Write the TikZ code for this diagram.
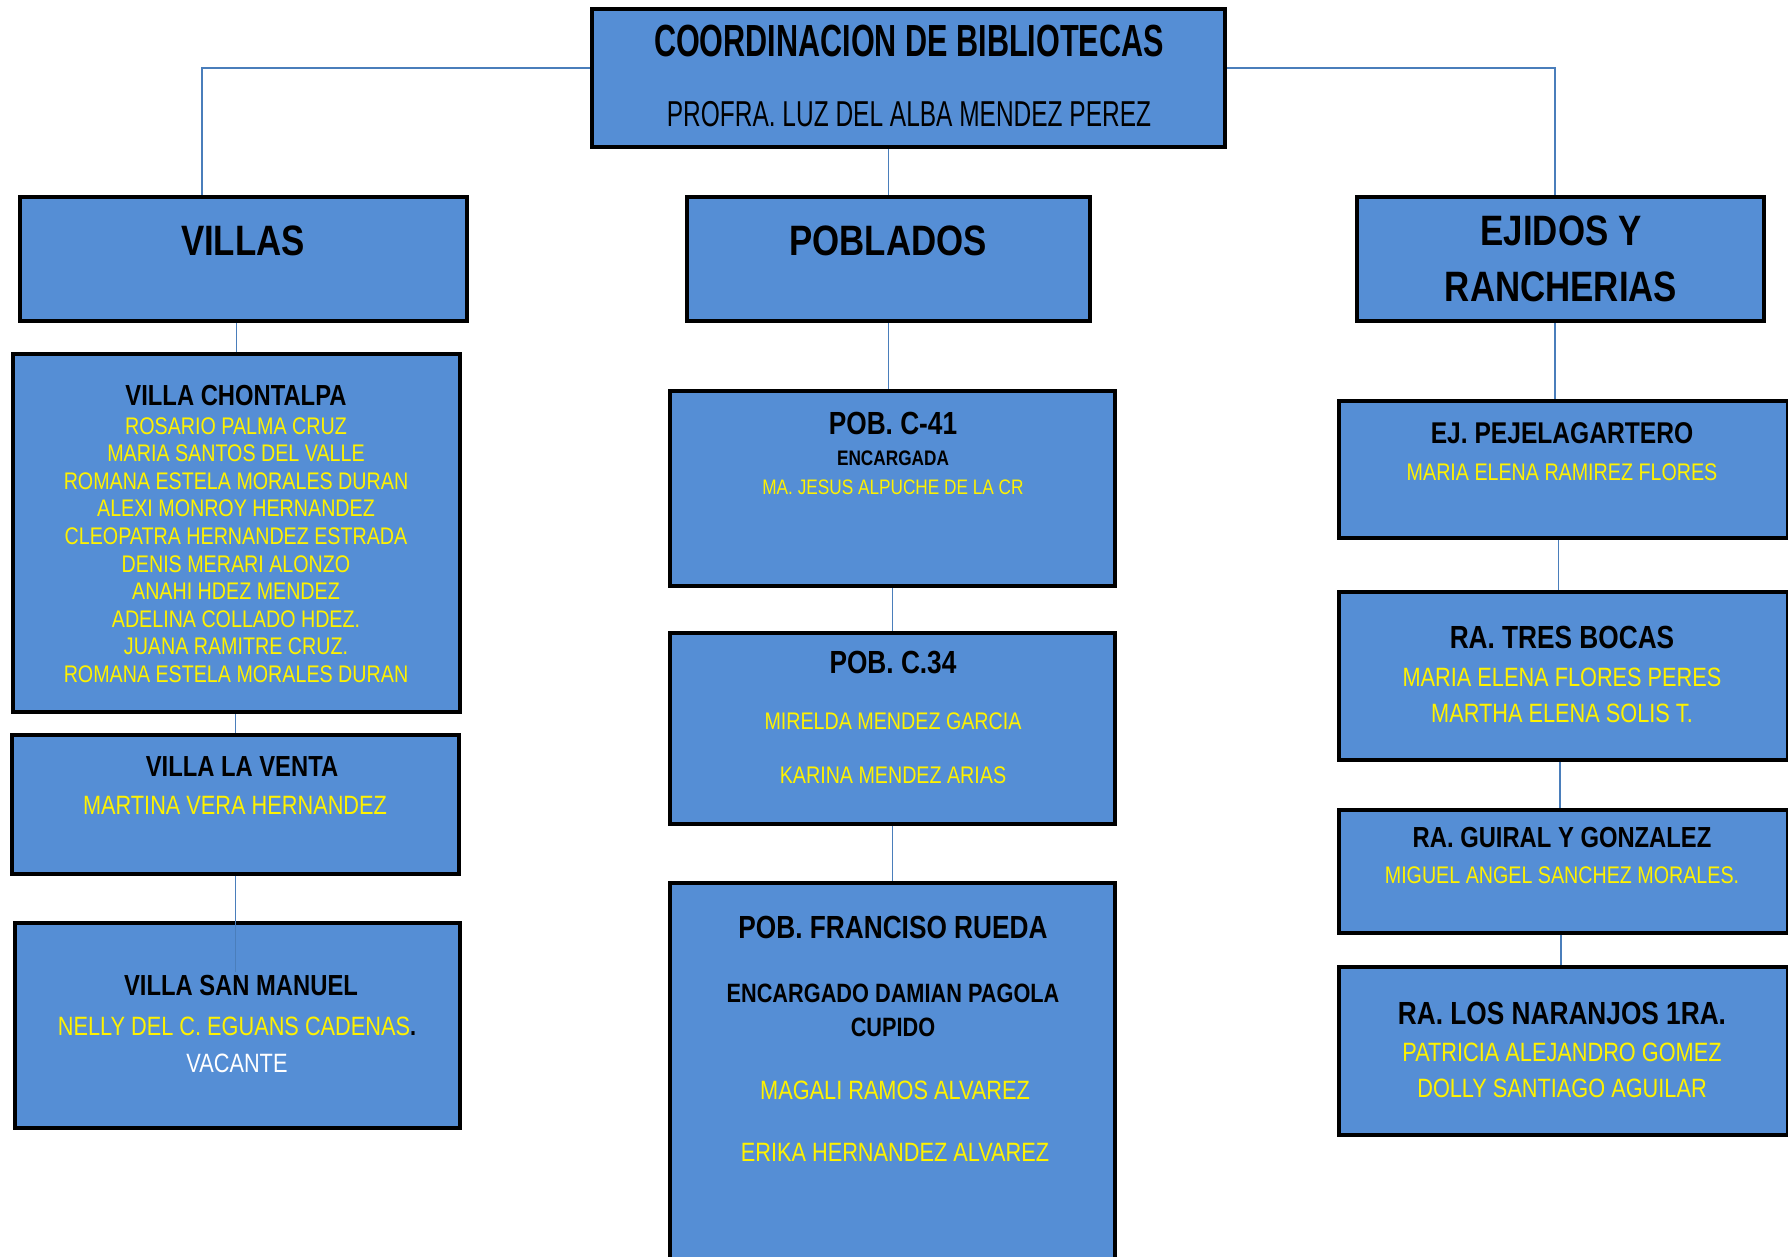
\documentclass[tikz,border=0pt]{standalone}
\usepackage{fontspec}
\setmainfont{Liberation Sans}[FakeStretch=0.82]
\newfontfamily\condfont{Liberation Sans}[FakeStretch=0.68]
\usetikzlibrary{fit}
\definecolor{boxblue}{RGB}{85,142,213}
\definecolor{linkblue}{RGB}{74,126,187}
\newcommand{\fsz}[2]{\fontsize{#1}{#2}\selectfont}

\begin{document}
\begin{tikzpicture} [
	x=1pt, y=-1pt,
	box/.style = {draw=black, line width=4.5pt, fill=boxblue, inner sep=0pt},
	link/.style = {draw=linkblue, line width=1.6pt},
	txt/.style = {inner sep=0pt, align=center},
	head/.style = {txt, font=\bfseries\fsz{42.5}{56}},
	ttl/.style = {txt, font=\bfseries\fsz{29}{34}},
	ttlbig/.style = {txt, font=\bfseries\fsz{32}{36}},
	names/.style = {txt, text=yellow}
]
\useasboundingbox (0,0) rectangle (1788,1256);

\node [box, fit={(592,9) (1225,147)}] (coord) {};
\node [box, fit={(20,197) (467,321)}] (villas) {};
\node [box, fit={(687,197) (1090,321)}] (poblados) {};
\node [box, fit={(1357,197) (1764,321)}] (ejidos) {};
\node [box, fit={(13,354) (460,712)}] (chontalpa) {};
\node [box, fit={(12,735) (459,874)}] (laventa) {};
\node [box, fit={(15,923) (460,1128)}] (sanmanuel) {};
\node [box, fit={(670,391) (1115,586)}] (pobc41) {};
\node [box, fit={(670,633) (1115,824)}] (pobc34) {};
\node [box, fit={(670,883) (1115,1300)}] (rueda) {};
\node [box, fit={(1339,401) (1788,538)}] (pejelagartero) {};
\node [box, fit={(1339,592) (1788,760)}] (tresbocas) {};
\node [box, fit={(1339,810) (1788,933)}] (guiral) {};
\node [box, fit={(1339,967) (1788,1135)}] (naranjos) {};

\coordinate (smend) at (235.5,972);
\draw [link] ([yshift=10pt]coord.west) -| ([xshift=-41.5pt]villas.north);
\draw [link] ([yshift=10pt]coord.east) -| ([xshift=-5.5pt]ejidos.north);
\draw [link] (coord.south -| poblados.north) -- (poblados.north);
\draw [link] (villas.south -| chontalpa.north) -- (chontalpa.north);
\draw [link] (chontalpa.south -| laventa.north) -- (laventa.north);
\draw [link] (laventa.south) -- (smend);
\draw [link] (poblados.south) -- (poblados.south |- pobc41.north);
\draw [link] (pobc41.south) -- (pobc34.north);
\draw [link] (pobc34.south) -- (rueda.north);
\draw [link] ([xshift=-5.5pt]ejidos.south) -- ([xshift=-5.5pt]ejidos.south |- pejelagartero.north);
\draw [link] ([xshift=-5pt]pejelagartero.south) -- ([xshift=-5pt]tresbocas.north);
\draw [link] ([xshift=-3.5pt]tresbocas.south) -- ([xshift=-3.5pt]guiral.north);
\draw [link] ([xshift=-2.5pt]guiral.south) -- ([xshift=-2.5pt]naranjos.north);

\node [txt, font=\condfont\bfseries\fsz{45}{50}] (coord-t) at (909,41) {COORDINACION DE BIBLIOTECAS};
\node [txt, font=\condfont\fsz{36}{40}] (coord-n) at (909,114) {PROFRA. LUZ DEL ALBA MENDEZ PEREZ};

\node [head] (villas-t) at (243,241) {VILLAS};
\node [head] (poblados-t) at (888,241) {POBLADOS};
\node [head] (ejidos-t) at (1561,259) {EJIDOS Y\\RANCHERIAS};

\node [ttl] (chontalpa-t) at (236,396) {VILLA CHONTALPA};
\node [names, font=\fsz{24}{27.6}] (chontalpa-n) at (236,550) {ROSARIO PALMA CRUZ\\MARIA SANTOS DEL VALLE\\ROMANA ESTELA MORALES DURAN\\ALEXI MONROY HERNANDEZ\\CLEOPATRA HERNANDEZ ESTRADA\\DENIS MERARI ALONZO\\ANAHI HDEZ MENDEZ\\ADELINA COLLADO HDEZ.\\JUANA RAMITRE CRUZ.\\ROMANA ESTELA MORALES DURAN};
\node [ttl] (laventa-t) at (242,767) {VILLA LA VENTA};
\node [names, font=\fsz{26.5}{30}] (laventa-n) at (235,805) {MARTINA VERA HERNANDEZ};
\node [ttl] (sanmanuel-t) at (241,986) {VILLA SAN MANUEL};
\node [names, font=\fsz{26.5}{37}] (sanmanuel-n) at (237,1044.5) {NELLY DEL C. EGUANS CADENAS{\color{black}\bfseries.}\\{\color{white}VACANTE}};

\node [ttlbig] (pobc41-t) at (893,423) {POB. C-41};
\node [txt, font=\bfseries\fsz{21}{24}] (pobc41-e) at (893,458) {ENCARGADA};
\node [names, font=\fsz{21}{24}] (pobc41-n) at (893,487) {MA. JESUS ALPUCHE DE LA CR};
\node [ttlbig] (pobc34-t) at (893,662) {POB. C.34};
\node [names, font=\fsz{24}{54}] (pobc34-n) at (893,748) {MIRELDA MENDEZ GARCIA\\KARINA MENDEZ ARIAS};
\node [ttlbig] (rueda-t) at (893,927) {POB. FRANCISO RUEDA};
\node [txt, font=\bfseries\fsz{26.5}{34}] (rueda-e) at (893,1010) {ENCARGADO DAMIAN PAGOLA\\CUPIDO};
\node [names, font=\fsz{26.5}{62}] (rueda-n) at (895,1121) {MAGALI RAMOS ALVAREZ\\ERIKA HERNANDEZ ALVAREZ};

\node [txt, font=\bfseries\fsz{30}{34}] (pejelagartero-t) at (1562,433) {EJ. PEJELAGARTERO};
\node [names, font=\fsz{24}{28}] (pejelagartero-n) at (1562,472) {MARIA ELENA RAMIREZ FLORES};
\node [ttlbig] (tresbocas-t) at (1562,637) {RA. TRES BOCAS};
\node [names, font=\fsz{26.5}{36}] (tresbocas-n) at (1562,695) {MARIA ELENA FLORES PERES\\MARTHA ELENA SOLIS T.};
\node [ttl] (guiral-t) at (1562,838) {RA. GUIRAL Y GONZALEZ};
\node [names, font=\fsz{24}{28}] (guiral-n) at (1562,875) {MIGUEL ANGEL SANCHEZ MORALES.};
\node [ttlbig] (naranjos-t) at (1562,1013) {RA. LOS NARANJOS 1RA.};
\node [names, font=\fsz{26.5}{36}] (naranjos-n) at (1562,1070) {PATRICIA ALEJANDRO GOMEZ\\DOLLY SANTIAGO AGUILAR};
\end{tikzpicture}
\end{document}
